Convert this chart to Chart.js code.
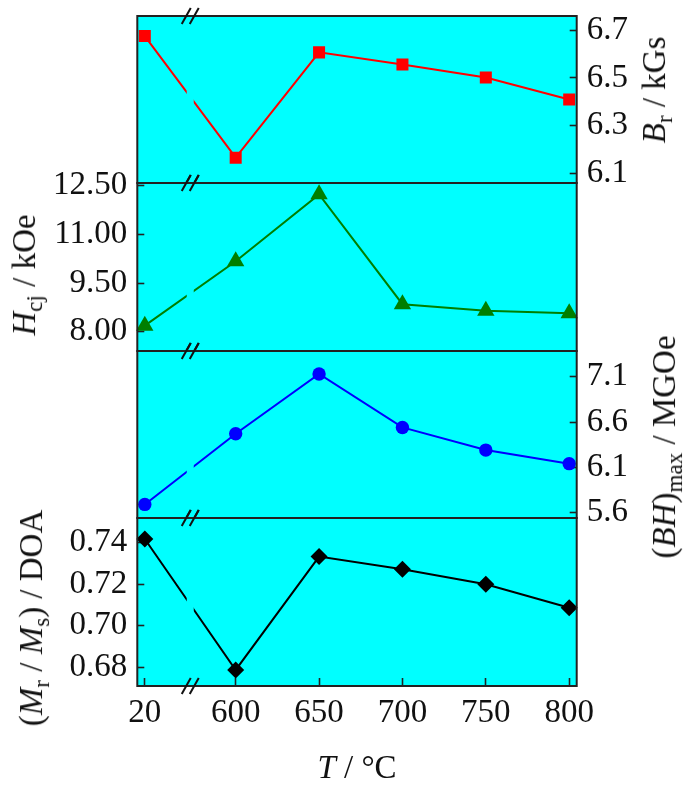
<!DOCTYPE html>
<html><head><meta charset="utf-8">
<script src="https://cdn.jsdelivr.net/npm/chart.js@4"></script>
<style>
html,body{margin:0;padding:0;background:#fff;}
#wrap{position:relative;width:685px;height:789px;overflow:hidden;font-family:'Liberation Serif','Times New Roman',serif;}
canvas{position:absolute;left:0;top:0;}
.t{position:absolute;white-space:nowrap;font-size:33px;color:#111;line-height:1.15;}
.rot{transform:translate(-50%,-50%) rotate(-90deg);}
.hz{transform:translate(-50%,-50%);}
.s{font-size:70%;position:relative;top:0.3em;}
i{font-style:italic;}
</style></head><body>
<div id="wrap">
<canvas id="c1" width="685" height="789"></canvas>
<canvas id="c2" width="685" height="789"></canvas>
<canvas id="c3" width="685" height="789"></canvas>
<canvas id="c4" width="685" height="789"></canvas>
<div class="t rot" style="left:655px;top:90px"><i>B</i><span class="s">r</span> / kGs</div>
<div class="t rot" style="left:25px;top:275px"><i>H</i><span class="s">cj</span> / kOe</div>
<div class="t rot" style="left:665px;top:447px">(<i>BH</i>)<span class="s">max</span> / MGOe</div>
<div class="t rot" style="left:32px;top:618px">(<i>M</i><span class="s">r</span> / <i>M</i><span class="s">s</span>) / DOA</div>
<div class="t hz" style="left:357px;top:768px"><i>T</i> / °C</div>
</div>
<script>
// ---- data ----
const categories = ['20', '600', '650', '700', '750', '800'];
const brValues  = [6.675, 6.167, 6.607, 6.556, 6.502, 6.410];
const hcjValues = [8.19, 10.17, 12.23, 8.85, 8.65, 8.57];
const bhValues  = [5.69, 6.47, 7.13, 6.54, 6.29, 6.14];
const doaValues = [0.7416, 0.6788, 0.7332, 0.7271, 0.7199, 0.7086];
const brTicks  = [6.1, 6.3, 6.5, 6.7];
const hcjTicks = [8.00, 9.50, 11.00, 12.50];
const bhTicks  = [5.6, 6.1, 6.6, 7.1];
const doaTicks = [0.68, 0.70, 0.72, 0.74];

// ---- broken category axis ----
class BrokenCategoryScale extends Chart.CategoryScale {
  getPixelForValue(value) {
    if (typeof value !== 'number') value = this.parse(value);
    if (value === null || value === undefined || isNaN(value)) return NaN;
    const o = this.options;
    const gap = o.breakGap || 0, pad = o.edgePad || 0;
    let v = value - this._startValue;
    if (value > o.breakAfter) v += gap;
    return this.getPixelForDecimal((v + pad) / (this._valueRange + gap + 2 * pad));
  }
  breakPixel() {
    const b = this.options.breakAfter;
    return (this.getPixelForValue(b) + this.getPixelForValue(b + 1)) / 2;
  }
}
BrokenCategoryScale.id = 'brokenCategory';
BrokenCategoryScale.defaults = Chart.CategoryScale.defaults;
Chart.register(BrokenCategoryScale);

Chart.defaults.font.family = "'Liberation Serif','Times New Roman',serif";
Chart.defaults.font.size = 33;
Chart.defaults.color = '#111';
Chart.defaults.animation = false;

const W = 685, H = 789;
const LEFT = 137.3, RIGHTW = 685 - 576.7;
const GAP = 7;

const deco = {
  id: 'deco',
  beforeDraw(chart) {
    const a = chart.chartArea, ctx = chart.ctx;
    ctx.save();
    ctx.fillStyle = '#00ffff';
    ctx.fillRect(a.left, a.top, a.right - a.left, a.bottom - a.top);
    ctx.restore();
  },
  beforeDatasetsDraw(chart) {
    const bx = chart.scales.x.breakPixel();
    const ctx = chart.ctx;
    ctx.save();
    ctx.beginPath();
    ctx.rect(0, 0, bx - GAP / 2, H);
    ctx.rect(bx + GAP / 2, 0, W - bx - GAP / 2, H);
    ctx.clip();
  },
  afterDatasetsDraw(chart) {
    chart.ctx.restore();
  },
  afterDraw(chart) {
    const a = chart.chartArea, ctx = chart.ctx;
    ctx.save();
    ctx.strokeStyle = '#222';
    ctx.lineWidth = 2;
    ctx.strokeRect(a.left, a.top, a.right - a.left, a.bottom - a.top);
    const bx = chart.scales.x.breakPixel();
    ctx.lineWidth = 2;
    ctx.strokeStyle = '#111';
    [a.top, a.bottom].forEach(by => {
      [-4, 4].forEach(dx => {
        const cx = bx + dx;
        ctx.beginPath();
        ctx.moveTo(cx - 4.5, by + 8);
        ctx.lineTo(cx + 4.5, by - 8);
        ctx.stroke();
      });
    });
    ctx.restore();
  }
};

function zeroPad(s) { s.paddingTop = 0; s.paddingBottom = 0; s.paddingLeft = 0; s.paddingRight = 0; }

function makePanel(id, cfg) {
  const side = cfg.side;
  const showX = !!cfg.showX;
  const xAxisH = 50;
  const padding = {
    top: cfg.top,
    bottom: showX ? (H - cfg.bottom - xAxisH) : (H - cfg.bottom),
    left: side === 'left' ? 0 : LEFT,
    right: side === 'left' ? RIGHTW : 0
  };
  return new Chart(document.getElementById(id), {
    type: 'line',
    data: {
      labels: categories,
      datasets: [{
        data: cfg.values,
        borderColor: cfg.color,
        backgroundColor: cfg.color,
        pointBackgroundColor: cfg.color,
        pointBorderColor: cfg.color,
        pointBorderWidth: 0,
        pointStyle: cfg.pointStyle,
        pointRadius: cfg.radius,
        borderWidth: 2,
        tension: 0,
        clip: false
      }]
    },
    options: {
      responsive: false,
      animation: false,
      events: [],
      layout: { padding, autoPadding: false },
      plugins: { legend: { display: false }, tooltip: { enabled: false }, title: { display: false } },
      scales: {
        x: {
          type: 'brokenCategory',
          display: showX,
          position: 'bottom',
          breakAfter: 0, breakGap: 0.09, edgePad: 0.09,
          afterFit: s => { s.height = showX ? xAxisH : 0; zeroPad(s); },
          ticks: { padding: 16, autoSkip: false, maxRotation: 0, color: '#111', font: { size: 33 } },
          grid: { drawOnChartArea: false, drawTicks: true, tickLength: -8, tickWidth: 1.6, tickColor: '#222' },
          border: { display: false }
        },
        y: {
          type: 'linear',
          position: side,
          min: cfg.min, max: cfg.max,
          afterBuildTicks: s => { s.ticks = cfg.ticks.map(v => ({ value: v })); },
          afterFit: s => { s.width = side === 'left' ? LEFT : RIGHTW; zeroPad(s); },
          ticks: {
            callback: v => Number(v).toFixed(cfg.decimals),
            padding: 17, autoSkip: false, color: '#111', font: { size: 33 }
          },
          grid: { drawOnChartArea: false, drawTicks: true, tickLength: -7, tickWidth: 1.6, tickColor: '#222' },
          border: { display: false }
        }
      }
    },
    plugins: [deco]
  });
}

makePanel('c1', { side: 'right', top: 16, bottom: 183, values: brValues, ticks: brTicks, min: 6.061, max: 6.759, decimals: 1,
  color: '#ff0000', pointStyle: 'rect', radius: 8.5 });
makePanel('c2', { side: 'left', top: 183, bottom: 351, values: hcjValues, ticks: hcjTicks, min: 7.41, max: 12.58, decimals: 2,
  color: '#007f00', pointStyle: 'triangle', radius: 10 });
makePanel('c3', { side: 'right', top: 351, bottom: 518, values: bhValues, ticks: bhTicks, min: 5.540, max: 7.384, decimals: 1,
  color: '#0000ff', pointStyle: 'circle', radius: 6.7 });
makePanel('c4', { side: 'left', top: 518, bottom: 686, values: doaValues, ticks: doaTicks, min: 0.6711, max: 0.7517, decimals: 2,
  color: '#000000', pointStyle: 'rectRot', radius: 8.5, showX: true });
</script>
</body></html>
